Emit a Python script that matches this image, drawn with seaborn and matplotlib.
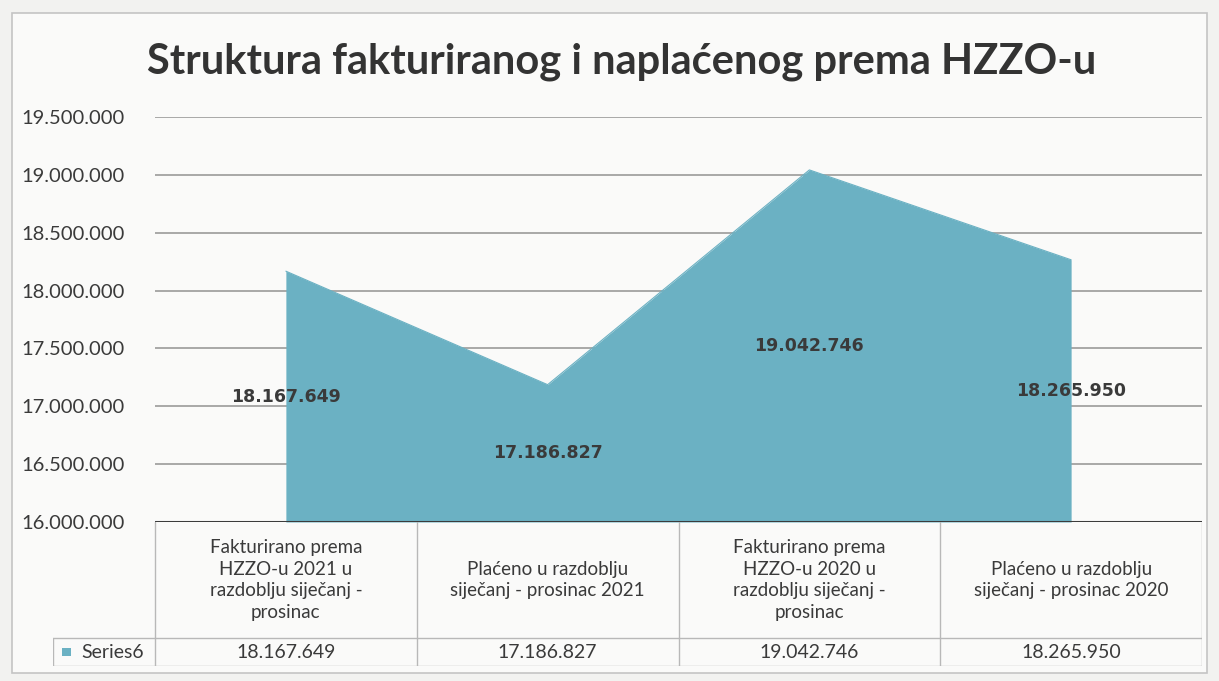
import matplotlib
matplotlib.use("Agg")
import matplotlib.pyplot as plt
import seaborn as sns
import pandas as pd
from matplotlib.patches import Rectangle

# chart data
categories = [
    "Fakturirano prema\nHZZO-u 2021 u\nrazdoblju siječanj -\nprosinac",
    "Plaćeno u razdoblju\nsiječanj - prosinac 2021",
    "Fakturirano prema\nHZZO-u 2020 u\nrazdoblju siječanj -\nprosinac",
    "Plaćeno u razdoblju\nsiječanj - prosinac 2020",
]
values = [18167649, 17186827, 19042746, 18265950]
series_name = "Series6"
y_ticks = [16000000, 16500000, 17000000, 17500000, 18000000, 18500000, 19000000, 19500000]
title = "Struktura fakturiranog i naplaćenog prema HZZO-u"

AREA = "#6BB1C3"
TEXT = "#3a3a3a"
BASE = y_ticks[0]


def fmt(v):
    return f"{v:,}".replace(",", ".")


df = pd.DataFrame({"pos": range(len(values)), "value": values})

sns.set_theme(style="white")
plt.rcParams["font.family"] = ["Lato", "DejaVu Sans"]

W, H = 1219, 681
fig = plt.figure(figsize=(W / 100, H / 100), dpi=100, facecolor="#f2f2f0")
fig.add_artist(Rectangle((12 / W, 8 / H), 1195 / W, 660 / H, transform=fig.transFigure,
                         facecolor="#fafaf9", edgecolor="#c4c4c4", lw=1.2, zorder=-5))

# main area plot
ax = fig.add_axes([155 / W, 1 - 522 / H, 1047 / W, 405 / H])
ax.set_facecolor("none")
ax.fill_between(df["pos"], df["value"], BASE, color=AREA, lw=0, zorder=2)
sns.lineplot(data=df, x="pos", y="value", ax=ax, color=AREA, lw=0.8, zorder=3)

for t in y_ticks[1:]:
    ax.axhline(t, color="#9a9a9a", lw=1.2, zorder=1)
ax.axhline(BASE, color="#3c3c3c", lw=2.2, zorder=4)

ax.set_xlim(-0.5, len(values) - 0.5)
ax.set_ylim(y_ticks[0], y_ticks[-1])
ax.set_yticks(y_ticks)
ax.set_yticklabels([fmt(t) for t in y_ticks], fontsize=14.5, color=TEXT)
ax.tick_params(axis="y", length=0, pad=22)
ax.set_xticks([])
ax.set_xlabel("")
ax.set_ylabel("")
for s in ax.spines.values():
    s.set_visible(False)

# data labels in the middle of each column of the area
for i, v in enumerate(values):
    ax.text(i, (v + BASE) / 2, fmt(v), ha="center", va="center", fontsize=12.5,
            fontweight="bold", color=TEXT, family=["DejaVu Sans"], zorder=5)

fig.text(622 / W, 1 - 62 / H, title, ha="center", va="center", fontsize=30,
         fontweight="bold", color="#333333")

# data table under the chart
label_w = 102 / 261.75
tab = fig.add_axes([53 / W, 1 - 666 / H, 1149 / W, 144 / H])
tab.set_xlim(-0.5 - label_w, len(values) - 0.5)
tab.set_ylim(0, 1)
tab.axis("off")
row_split = 28 / 144
grid = "#b8b8b8"
n = len(values)
tab.plot([-0.5 - label_w, n - 0.5], [row_split, row_split], color=grid, lw=1)
tab.plot([-0.5 - label_w, n - 0.5], [0, 0], color=grid, lw=1)
tab.plot([-0.5 - label_w, -0.5 - label_w], [0, row_split], color=grid, lw=1)
for k in range(n + 1):
    tab.plot([k - 0.5, k - 0.5], [0, 1], color=grid, lw=1)

for i, (c, v) in enumerate(zip(categories, values)):
    tab.text(i, (1 + row_split) / 2, c, ha="center", va="center", fontsize=13.5,
             color=TEXT, linespacing=1.33)
    tab.text(i, row_split / 2, fmt(v), ha="center", va="center", fontsize=14, color=TEXT)

tab.add_patch(Rectangle((-0.5 - label_w + 0.035, row_split / 2 - 0.03), 0.035, 0.06,
                        facecolor=AREA, edgecolor="none"))
tab.text(-0.5 - label_w + 0.11, row_split / 2, series_name, ha="left", va="center",
         fontsize=14, color=TEXT)

fig.savefig("out.png", dpi=100, facecolor=fig.get_facecolor())
